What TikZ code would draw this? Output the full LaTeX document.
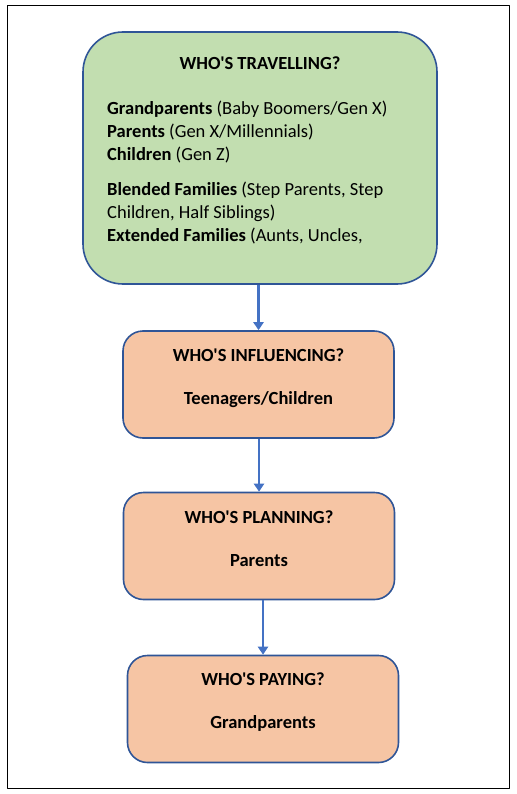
\documentclass[tikz,border=0pt]{standalone}
\usepackage{fontspec}
\setmainfont{Carlito}[Ligatures=TeXOff]
\usetikzlibrary{arrows.meta}
\definecolor{boxline}{HTML}{2F5597}
\definecolor{travel}{HTML}{C2DEB0}
\definecolor{role}{HTML}{F6C5A4}
\definecolor{flow}{HTML}{4472C4}
\begin{document}
\begin{tikzpicture}[
  x=1pt, y=-1pt,
  line join=round,
  every node/.style={font=\fontsize{18.5}{23}\selectfont, inner sep=0pt},
  box/.style={draw=boxline, line width=1.6pt, rounded corners=20pt},
  travelbox/.style={box, fill=travel, rounded corners=40pt, minimum width=354pt, minimum height=252pt},
  rolebox/.style={box, fill=role, minimum width=271pt, minimum height=107pt},
  head/.style={font=\fontsize{18.5}{23}\selectfont\bfseries},
  flowarrow/.style={draw=flow, line width=2.4pt, -{Triangle[width=10pt,length=8pt]}},
]
\useasboundingbox (0,0) rectangle (516,794);
\draw[line width=0.8pt] (7,5) rectangle (509,788);

\node[travelbox] (travel) at (260,158) {};
\node[rolebox] (influence) at (258.5,384.5) {};
\node[rolebox] (planning) at (259,546) {};
\node[rolebox] (paying) at (263,709) {};

\node[head] (travel-head) at (260,63) {WHO'S TRAVELLING?};
\node[anchor=north west, align=left] (travel-body) at (107,100.5)
  {\textbf{Grandparents} (Baby Boomers/Gen X)\\
   \textbf{Parents} (Gen X/Millennials)\\
   \textbf{Children} (Gen Z)\\[12pt]
   \textbf{Blended Families} (Step Parents, Step\\
   Children, Half Siblings)\\
   \textbf{Extended Families} (Aunts, Uncles,};

\node[head] (influence-head) at (258.5,355) {WHO'S INFLUENCING?};
\node[head] (influence-who) at (258.5,400) {Teenagers/Children};
\node[head] (planning-head) at (259,517) {WHO'S PLANNING?};
\node[head] (planning-who) at (259,561) {Parents};
\node[head] (paying-head) at (263,679) {WHO'S PAYING?};
\node[head] (paying-who) at (263,723) {Grandparents};

\draw[flowarrow] (influence.north |- travel.south) -- (influence.north);
\draw[flowarrow] (planning.north |- influence.south) -- (planning.north);
\draw[flowarrow] (paying.north |- planning.south) -- (paying.north);
\end{tikzpicture}
\end{document}
